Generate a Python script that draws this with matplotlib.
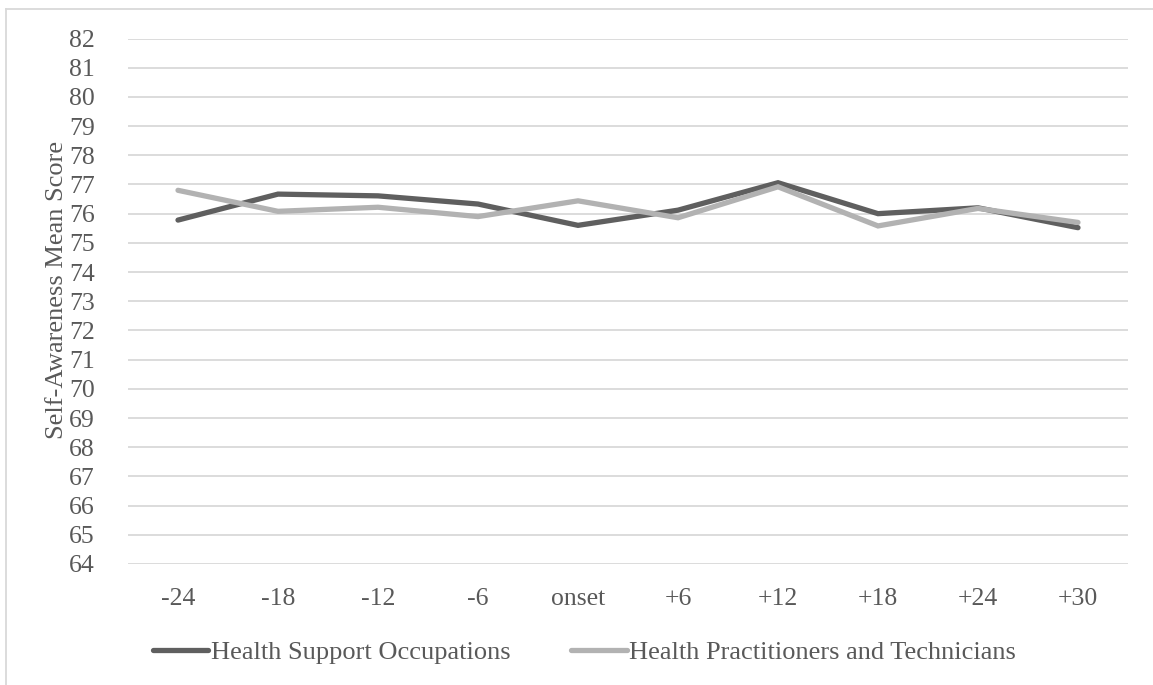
import matplotlib
matplotlib.use("Agg")
import matplotlib.pyplot as plt
from matplotlib.lines import Line2D

plt.rcParams['font.family'] = ['Liberation Serif', 'DejaVu Serif']

periods = ["-24", "-18", "-12", "-6", "onset", "+6", "+12", "+18", "+24", "+30"]
support = [75.78, 76.67, 76.61, 76.33, 75.60, 76.12, 77.06, 76.00, 76.20, 75.52]
practitioners = [76.80, 76.08, 76.22, 75.90, 76.44, 75.86, 76.92, 75.58, 76.18, 75.70]
series_names = ["Health Support Occupations", "Health Practitioners and Technicians"]
y_ticks = list(range(64, 83))

text_color = "#595959"
dark = "#5f5f5f"
light = "#b2b2b2"
grid_color = "#d9d9d9"

fig = plt.figure(figsize=(11.53, 6.85), dpi=100)
ax = fig.add_axes([128 / 1153, 1 - 564 / 685, 1000 / 1153, (564 - 38.5) / 685])

x = range(len(periods))
ax.plot(x, support, color=dark, lw=3.8, solid_capstyle="round", solid_joinstyle="miter",
        label=series_names[0], zorder=3)
ax.plot(x, practitioners, color=light, lw=3.8, solid_capstyle="round", solid_joinstyle="miter",
        label=series_names[1], zorder=3)

ax.set_xlim(-0.5, len(periods) - 0.5)
ax.set_ylim(64, 82)
ax.set_yticks(y_ticks)
ax.set_xticks(list(x))
ax.set_xticklabels(periods)
ax.yaxis.grid(True, color=grid_color, lw=1.3)
ax.set_axisbelow(True)
for s in ax.spines.values():
    s.set_visible(False)
ax.tick_params(axis="both", length=0, labelsize=18.5, colors=text_color)
ax.tick_params(axis="y", pad=24)
ax.tick_params(axis="x", pad=17)

fig.text(57 / 1153, 1 - 290 / 685, "Self-Awareness Mean Score", rotation=90,
         ha="center", va="center", fontsize=19, color=text_color)

# chart frame
fig.add_artist(Line2D([6 / 1153, 6 / 1153], [0, 1 - 9 / 685], transform=fig.transFigure,
                      color=grid_color, lw=1.3))
fig.add_artist(Line2D([6 / 1153, 1], [1 - 9 / 685, 1 - 9 / 685], transform=fig.transFigure,
                      color=grid_color, lw=1.3))

leg = fig.legend(loc="center", bbox_to_anchor=(584.5 / 1153, 1 - 652 / 685), ncol=2,
                 frameon=False, fontsize=19, handlelength=2.1, handletextpad=0.1,
                 columnspacing=2.3, labelcolor=text_color)

fig.savefig("out.png", dpi=100)
